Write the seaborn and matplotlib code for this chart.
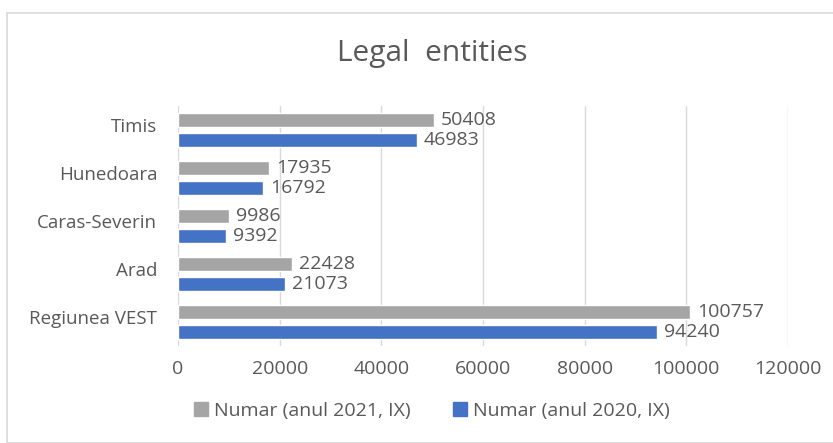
import pandas as pd
import seaborn as sns
import matplotlib.pyplot as plt
import matplotlib.transforms as mtransforms
from matplotlib.patches import Rectangle

regions = ['Timis', 'Hunedoara', 'Caras-Severin', 'Arad', 'Regiunea VEST']
numar_2021 = [50408, 17935, 9986, 22428, 100757]
numar_2020 = [46983, 16792, 9392, 21073, 94240]
series = ['Numar (anul 2021, IX)', 'Numar (anul 2020, IX)']
colors = ['#A5A5A5', '#4472C4']
xticks = [0, 20000, 40000, 60000, 80000, 100000, 120000]

df = pd.DataFrame({
    'Region': regions * 2,
    'Value': numar_2021 + numar_2020,
    'Series': [series[0]] * len(regions) + [series[1]] * len(regions),
})

sns.set_style('white')
plt.rcParams['font.family'] = ['Open Sans', 'DejaVu Sans']
text_color = '#595959'

fig = plt.figure(figsize=(8.33, 4.43), dpi=100)
fig.patches.append(Rectangle((7 / 833, 0), 1, 1 - 13 / 443, transform=fig.transFigure,
                             fill=False, edgecolor='#D9D9D9', linewidth=1.2))
ax = fig.add_axes([178 / 833, 1 - 346 / 443, 610 / 833, 240 / 443])

sns.barplot(data=df, y='Region', x='Value', hue='Series', orient='h',
            palette=colors, width=0.83, gap=0.3, order=regions,
            hue_order=series, legend=False, ax=ax, saturation=1)

for cont in ax.containers:
    ax.bar_label(cont, labels=[f'{int(v)}' for v in cont.datavalues],
                 padding=5, fontsize=14, color=text_color)

ax.set_xlim(0, 120000)
ax.set_xticks(xticks)
ax.set_xticklabels([str(t) for t in xticks], fontsize=14, color=text_color)
ax.tick_params(axis='x', length=0, pad=10)
ax.tick_params(axis='y', length=0, pad=15, labelsize=13.5, labelcolor=text_color)
shift = mtransforms.ScaledTranslation(0, 5 / 100, fig.dpi_scale_trans)
for lbl in ax.get_yticklabels():
    lbl.set_transform(lbl.get_transform() + shift)
ax.grid(axis='x', color='#D9D9D9', linewidth=1)
ax.set_axisbelow(True)
for s in ax.spines.values():
    s.set_visible(False)
ax.set_xlabel('')
ax.set_ylabel('')

fig.text(432 / 833, 1 - 54 / 443, 'Legal  entities', ha='center', va='center',
         fontsize=21.5, color=text_color)

handles = [Rectangle((0, 0), 1, 1, color=c) for c in colors]
fig.legend(handles, series, loc='center', bbox_to_anchor=(432 / 833, 1 - 411 / 443),
           ncol=2, frameon=False, fontsize=14, labelcolor=text_color,
           handlelength=0.7, handleheight=0.7, handletextpad=0.3, columnspacing=2.2)

fig.savefig('out.png', dpi=100)
